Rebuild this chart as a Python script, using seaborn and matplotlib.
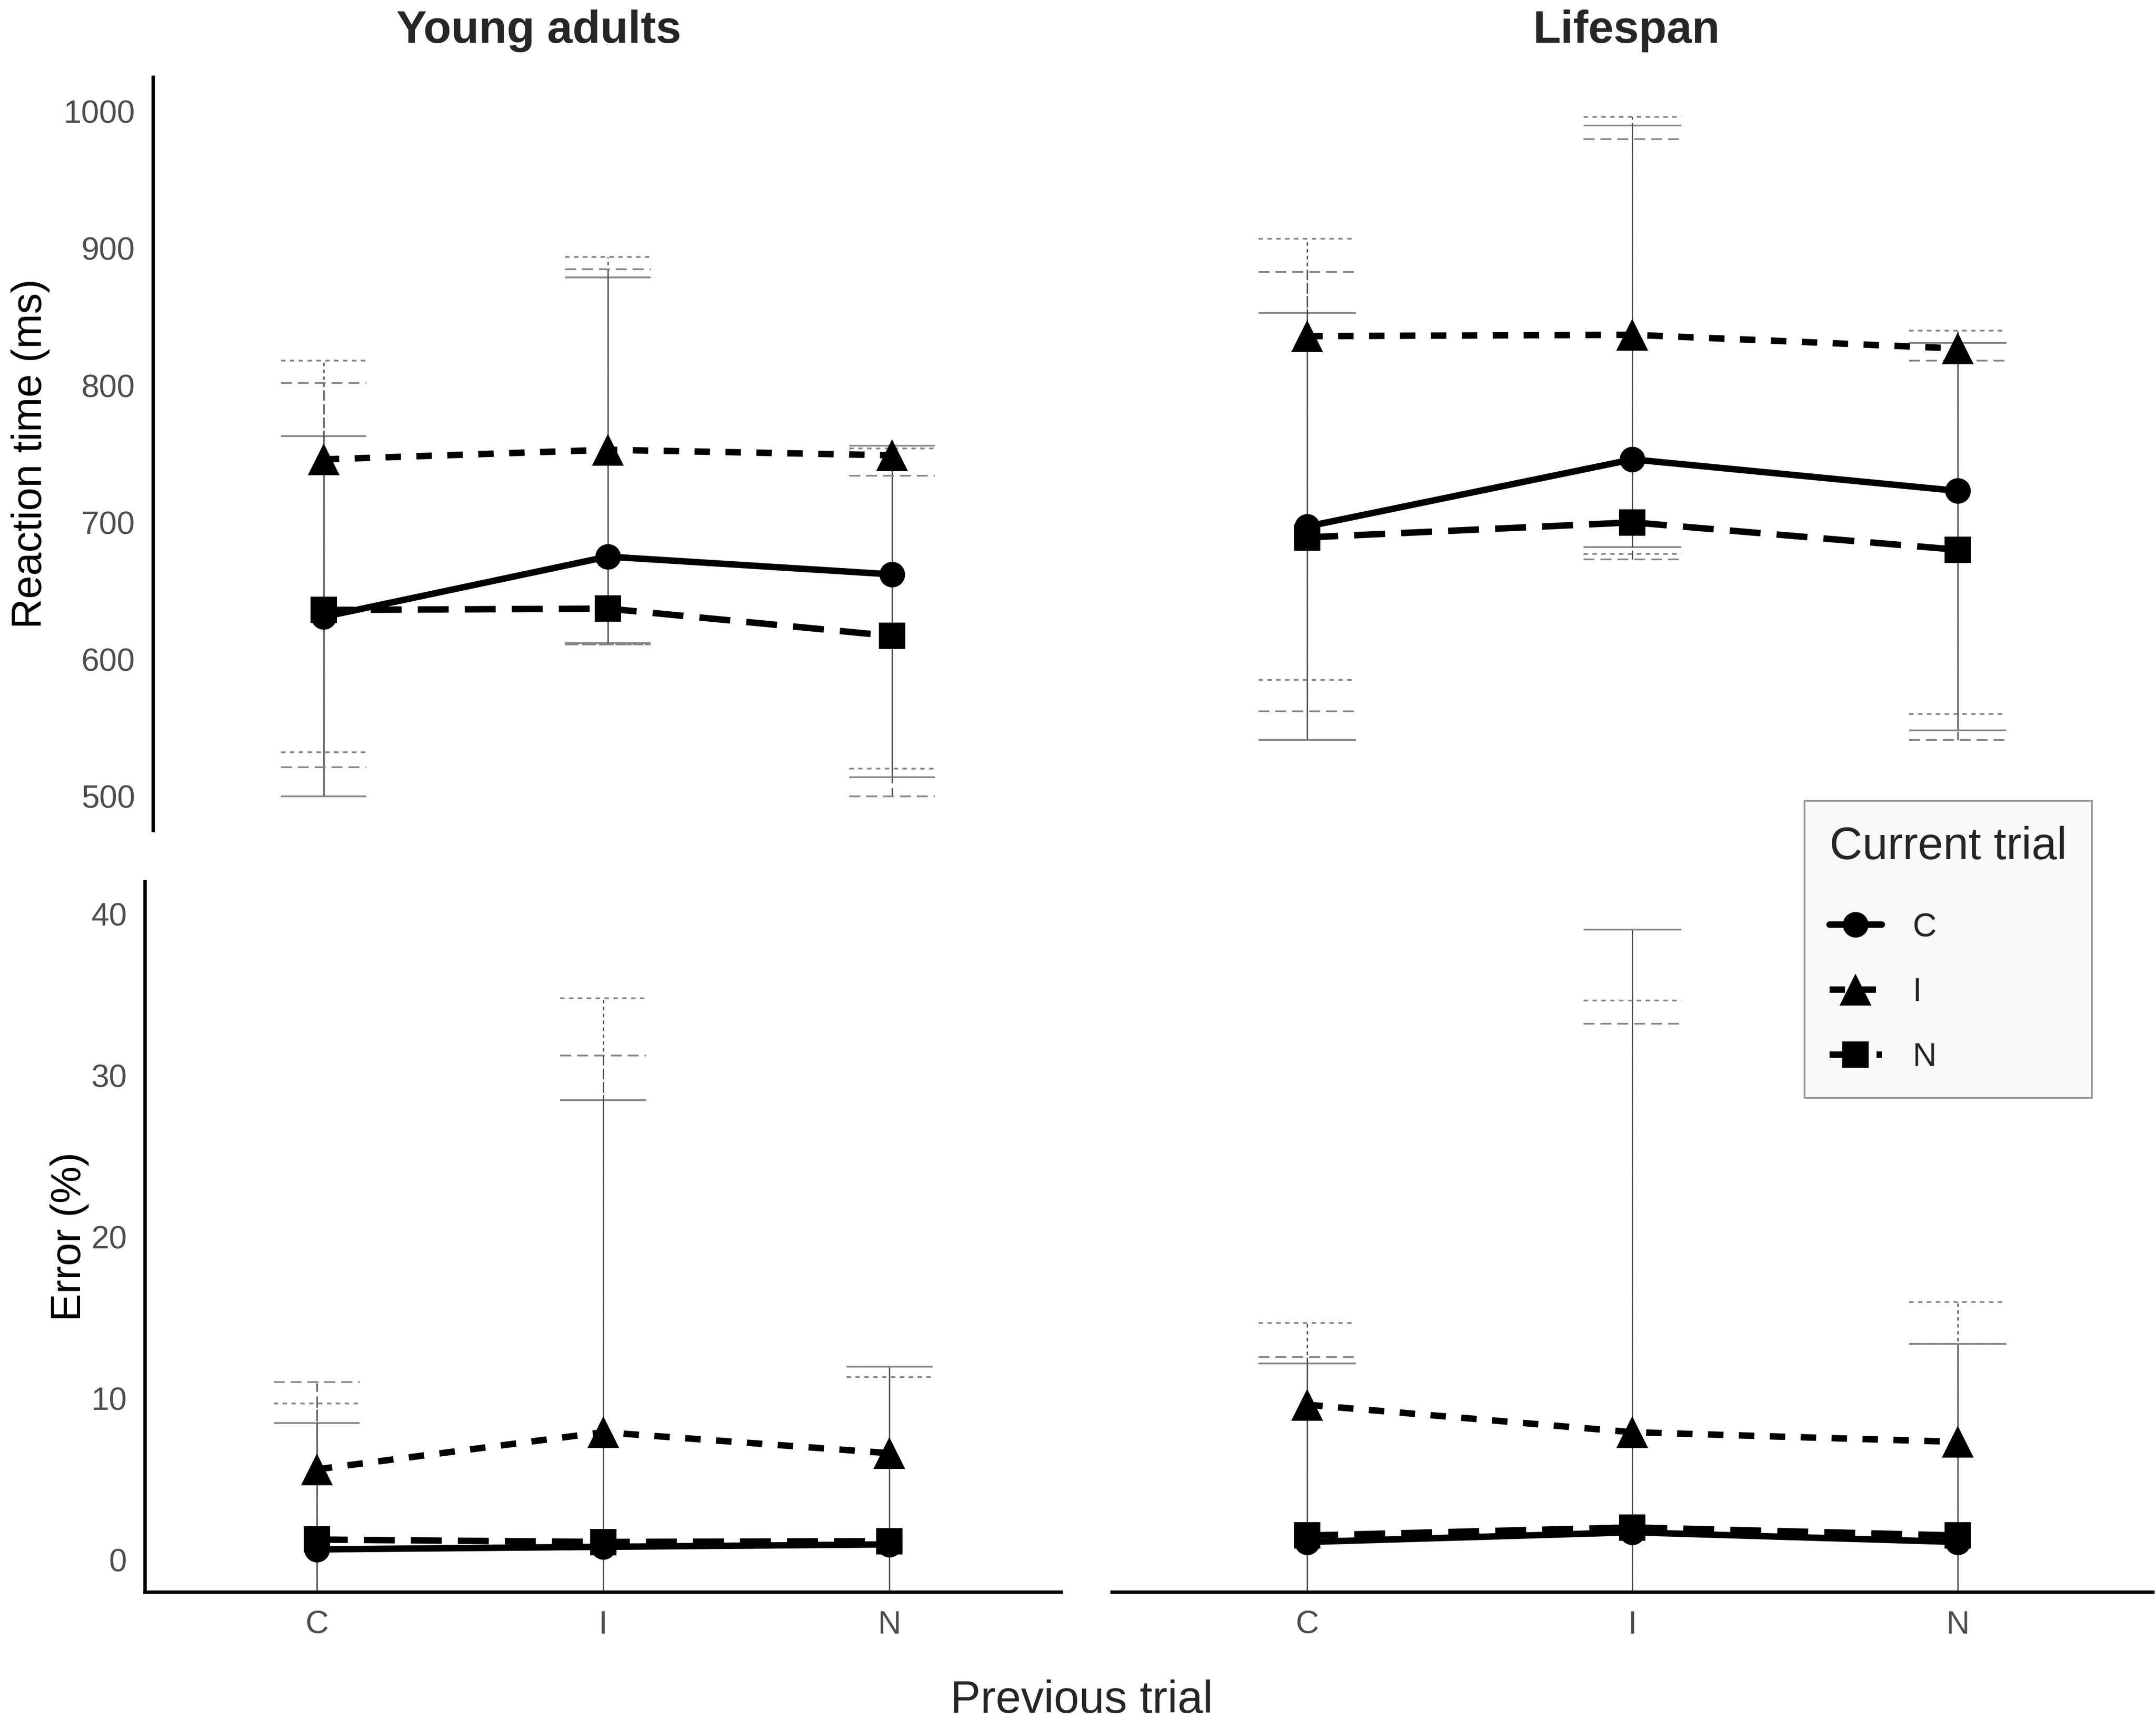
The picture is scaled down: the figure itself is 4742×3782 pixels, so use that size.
import numpy as np
import pandas as pd
import matplotlib
matplotlib.use("Agg")
import matplotlib.pyplot as plt
import seaborn as sns

sns.set_style("white")
plt.rcParams['font.family'] = ['Liberation Sans', 'DejaVu Sans']

# ---------------- data ----------------
prev_trials = ["C", "I", "N"]
current_trials = ["C", "I", "N"]

# Young adults – reaction time (ms)
young_rt_mean_C = [631, 675, 662]
young_rt_mean_I = [746, 753, 749]
young_rt_mean_N = [636, 637, 617]
young_rt_hi_C = [763, 879, 756]
young_rt_lo_C = [500, 612, 514]
young_rt_hi_I = [818, 894, 754]
young_rt_lo_I = [532, 611, 520]
young_rt_hi_N = [802, 885, 734]
young_rt_lo_N = [521, 611, 500]

# Lifespan – reaction time (ms)
life_rt_mean_C = [697, 746, 723]
life_rt_mean_I = [836, 837, 827]
life_rt_mean_N = [689, 700, 680]
life_rt_hi_C = [853, 990, 831]
life_rt_lo_C = [541, 682, 548]
life_rt_hi_I = [907, 996, 840]
life_rt_lo_I = [585, 677, 560]
life_rt_hi_N = [883, 980, 818]
life_rt_lo_N = [562, 673, 541]

# Young adults – error (%)
young_er_mean_C = [0.64, 0.8, 0.95]
young_er_mean_I = [5.6, 7.9, 6.6]
young_er_mean_N = [1.25, 1.1, 1.15]
young_er_hi_C = [8.46, 28.46, 11.97]
young_er_lo_C = [-7.2, -17.3, -9.5]
young_er_hi_I = [9.68, 34.78, 11.3]
young_er_lo_I = [-8.1, -19.0, -9.1]
young_er_hi_N = [10.99, 31.24, 11.97]
young_er_lo_N = [-9.1, -18.0, -9.7]

# Lifespan – error (%)
life_er_mean_C = [1.1, 1.7, 1.1]
life_er_mean_I = [9.6, 7.9, 7.3]
life_er_mean_N = [1.5, 2.0, 1.5]
life_er_hi_C = [12.15, 39.02, 13.37]
life_er_lo_C = [-9.95, -19.8, -10.4]
life_er_hi_I = [14.66, 34.63, 15.97]
life_er_lo_I = [-11.3, -18.8, -12.0]
life_er_hi_N = [12.55, 33.19, 13.37]
life_er_lo_N = [-10.35, -18.6, -10.4]

rt_ticks = [500, 600, 700, 800, 900, 1000]
er_ticks = [0, 10, 20, 30, 40]

# ---------------- styles ----------------
line_styles = {"C": "-", "I": (0, (2.4, 2.4)), "N": (0, (4.8, 2.5))}
bar_styles = {"C": "-", "I": (0, (2.6, 2.6)), "N": (0, (6.4, 3.5))}
markers = {"C": "o", "I": "^", "N": "s"}
msizes = {"C": 13.5, "I": 17, "N": 14}

W, H = 4742, 3782
fig = plt.figure(figsize=(W / 300, H / 300), dpi=300)

ax_yrt = fig.add_axes([337 / W, 0.5172, 2000 / W, 0.4378])
ax_lrt = fig.add_axes([2446 / W, 0.5172, 2289 / W, 0.4378])
ax_yer = fig.add_axes([319 / W, 0.0744, 2015 / W, 0.4130])
ax_ler = fig.add_axes([2446 / W, 0.0744, 2289 / W, 0.4130])

panels = [
    (ax_yrt, {"C": young_rt_mean_C, "I": young_rt_mean_I, "N": young_rt_mean_N},
     {"C": young_rt_lo_C, "I": young_rt_lo_I, "N": young_rt_lo_N},
     {"C": young_rt_hi_C, "I": young_rt_hi_I, "N": young_rt_hi_N}),
    (ax_lrt, {"C": life_rt_mean_C, "I": life_rt_mean_I, "N": life_rt_mean_N},
     {"C": life_rt_lo_C, "I": life_rt_lo_I, "N": life_rt_lo_N},
     {"C": life_rt_hi_C, "I": life_rt_hi_I, "N": life_rt_hi_N}),
    (ax_yer, {"C": young_er_mean_C, "I": young_er_mean_I, "N": young_er_mean_N},
     {"C": young_er_lo_C, "I": young_er_lo_I, "N": young_er_lo_N},
     {"C": young_er_hi_C, "I": young_er_hi_I, "N": young_er_hi_N}),
    (ax_ler, {"C": life_er_mean_C, "I": life_er_mean_I, "N": life_er_mean_N},
     {"C": life_er_lo_C, "I": life_er_lo_I, "N": life_er_lo_N},
     {"C": life_er_hi_C, "I": life_er_hi_I, "N": life_er_hi_N}),
]

xpos = np.arange(len(prev_trials))
cap_half = 0.15
legend_handles = []

for ax, means, los, his in panels:
    for cur in current_trials:
        lo = np.array(los[cur], dtype=float)
        hi = np.array(his[cur], dtype=float)
        ax.vlines(xpos, lo, hi, colors="#505050", linewidth=0.7,
                  linestyles=[bar_styles[cur]], zorder=1)
        ax.hlines(lo, xpos - cap_half, xpos + cap_half, colors="#858585",
                  linewidth=0.9, linestyles=[bar_styles[cur]], zorder=1)
        ax.hlines(hi, xpos - cap_half, xpos + cap_half, colors="#858585",
                  linewidth=0.9, linestyles=[bar_styles[cur]], zorder=1)
    for cur in current_trials:
        df = pd.DataFrame({"x": xpos, "y": means[cur]})
        sns.lineplot(data=df, x="x", y="y", ax=ax, color="black",
                     linewidth=3.4, linestyle=line_styles[cur],
                     marker=markers[cur], markersize=msizes[cur],
                     markeredgewidth=0, legend=False, zorder=3, label=cur)
        if ax is ax_ler:
            legend_handles.append(ax.lines[-1])
    ax.set_xlim(-0.6, 2.6)
    ax.set_xlabel("")
    ax.set_ylabel("")
    for s in ["top", "right"]:
        ax.spines[s].set_visible(False)
    for s in ["left", "bottom"]:
        ax.spines[s].set_linewidth(1.8)
        ax.spines[s].set_color("black")
    ax.tick_params(axis="both", length=4.6, width=1.8, color="#333333",
                   labelcolor="#4D4D4D", labelsize=17, pad=5)

for ax in (ax_yrt, ax_lrt):
    ax.set_ylim(475, 1025)
    ax.set_yticks(rt_ticks)
    ax.spines["bottom"].set_visible(False)
    ax.tick_params(axis="x", bottom=False, labelbottom=False)
for ax in (ax_yer, ax_ler):
    ax.set_ylim(-2, 42)
    ax.set_yticks(er_ticks)
    ax.set_xticks(xpos)
    ax.set_xticklabels(prev_trials)
for ax in (ax_lrt, ax_ler):
    ax.spines["left"].set_visible(False)
    ax.tick_params(axis="y", left=False, labelleft=False)

ax_yrt.set_ylabel("Reaction time (ms)", fontsize=22, color="black", labelpad=7)
ax_yer.set_ylabel("Error (%)", fontsize=22, color="black", labelpad=1)

fig.text(0.25, 1 - 94 / H, "Young adults", ha="center", va="baseline",
         fontsize=24, fontweight="bold")
fig.text(0.7543, 1 - 94 / H, "Lifespan", ha="center", va="baseline",
         fontsize=24, fontweight="bold")
fig.text(0.5017, 1 - 3766 / H, "Previous trial", ha="center", va="baseline",
         fontsize=24)

leg = fig.legend(legend_handles, current_trials, title="Current trial",
                 loc="upper left", bbox_to_anchor=(3969 / W, 1 - 1761 / H),
                 borderaxespad=0, fontsize=17.5, title_fontsize=24,
                 frameon=True, fancybox=False, framealpha=1,
                 edgecolor="#999999", facecolor="#F9F9F9",
                 handlelength=1.58, handletextpad=0.93,
                 labelspacing=1.04, borderpad=0.75, alignment="left")
leg.get_frame().set_linewidth(0.9)
# extra room between the legend title and its entries
leg._legend_box.sep = leg._legend_box.sep + 5

fig.savefig("out.png", dpi=300)
